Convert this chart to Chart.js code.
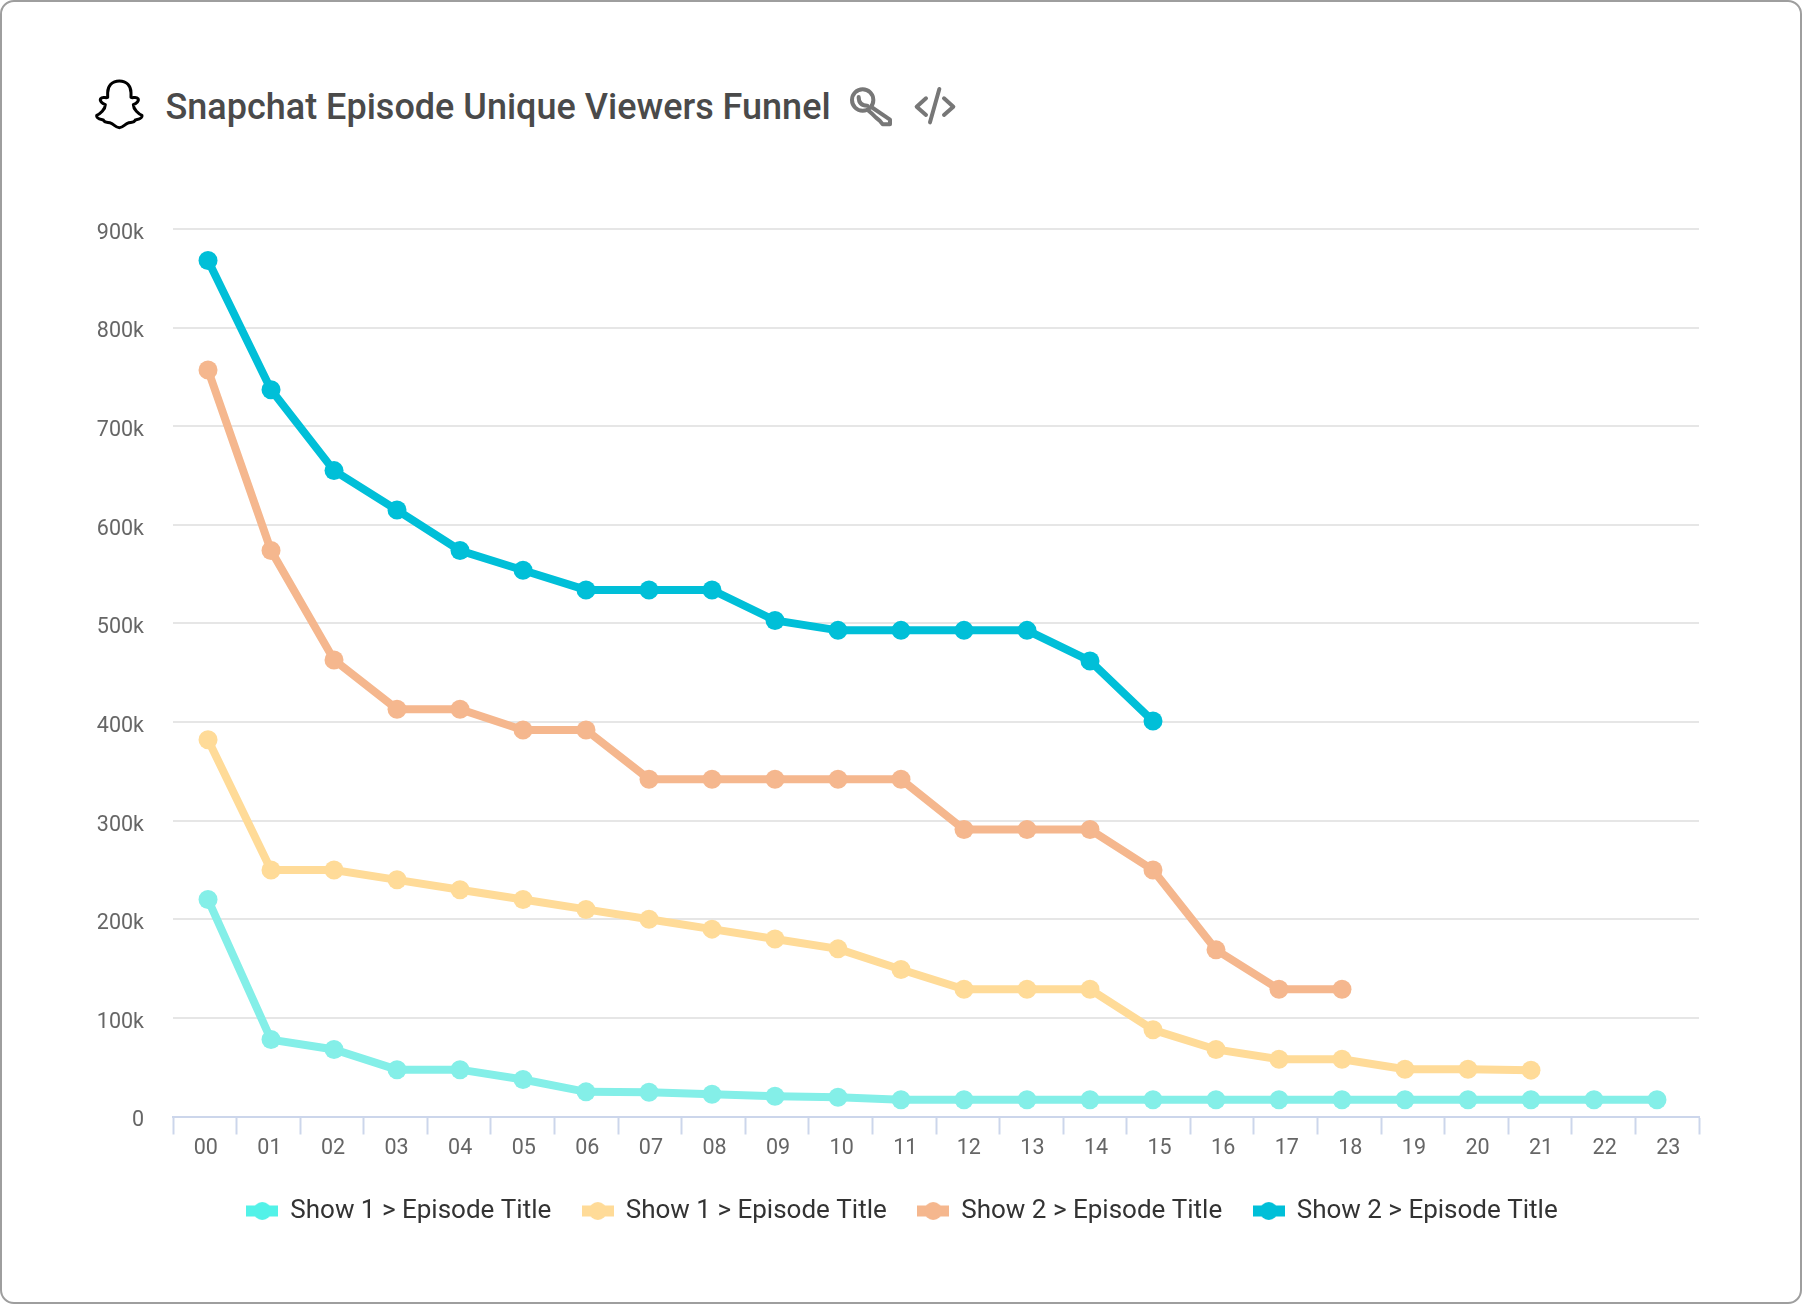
<!DOCTYPE html>
<html>
<head>
<meta charset="utf-8">
<title>Snapchat Episode Unique Viewers Funnel</title>
<script src="https://cdn.jsdelivr.net/npm/chart.js@4"></script>
<style>
    html, body { margin: 0; padding: 0; background: #fff; }
    #card { position: relative; width: 1802px; height: 1304px; box-sizing: border-box; border: 2px solid #9e9e9e; border-radius: 14px; overflow: hidden; }
    #grafico { position: absolute; left: -2px; top: -2px; }
    #titulo { position: absolute; left: 163.5px; top: 83px; margin: 0; font: 500 36px/44px Roboto, sans-serif; color: #4a4a4a; white-space: nowrap; }
    .icone { position: absolute; }
</style>
</head>
<body>
<div id="card">
    <svg class="icone" style="left:84px;top:68px" width="70" height="70" viewBox="0 0 210 210">
        <path fill="#fff" stroke="#000" stroke-width="9" stroke-linejoin="round" d="M100 33 C78 33 65 48 65 68 L65 82 C60 86 50 78 44 86 C40 92 48 100 58 104 C58 118 42 132 32 136 C30 146 44 148 52 150 C56 160 66 156 76 160 C84 164 90 173 100 173 C110 173 116 164 124 160 C134 156 144 160 148 150 C156 148 170 146 168 136 C158 132 142 118 142 104 C152 100 160 92 156 86 C150 78 140 86 135 82 L135 68 C135 48 122 33 100 33 Z"/>
    </svg>
    <h1 id="titulo">Snapchat Episode Unique Viewers Funnel</h1>
    <svg class="icone" style="left:838px;top:73px" width="130" height="60" viewBox="0 0 390 180">
        <g fill="none" stroke="#777" stroke-width="12" stroke-linecap="round" stroke-linejoin="round">
            <circle cx="68" cy="75" r="32"/>
            <path d="M56 66 C56 84 66 92 82 92"/>
            <path d="M94 96 L150 134 V148 H128 L118 136 L108 128 L98 118 L84 106"/>
            <path d="M258 70 L230 95 L258 120"/>
            <path d="M298 42 L270 142"/>
            <path d="M312 70 L340 95 L312 120"/>
        </g>
    </svg>
    <canvas id="grafico" width="1802" height="1304"></canvas>
</div>
<script>
const categorias = ['00','01','02','03','04','05','06','07','08','09','10','11','12','13','14','15','16','17','18','19','20','21','22','23'];
const nomes = ['Show 1 > Episode Title', 'Show 1 > Episode Title', 'Show 2 > Episode Title', 'Show 2 > Episode Title'];
const yTicks = [0, 100000, 200000, 300000, 400000, 500000, 600000, 700000, 800000, 900000];

// valores em milhares
const show1a = [220, 78, 68, 47.5, 47.5, 37.5, 25, 24.5, 22.5, 20.5, 19.5, 17, 17, 17, 17, 17, 17, 17, 17, 17, 17, 17, 17, 17];
const show1b = [382, 250, 250, 240, 230, 220, 210, 200, 190, 180, 170, 149, 129, 129, 129, 88, 68, 58, 58, 48, 48, 47];
const show2a = [757, 574, 463, 413, 413, 392, 392, 342, 342, 342, 342, 342, 291, 291, 291, 250, 169, 129, 129];
const show2b = [868, 737, 655, 615, 574, 554, 534, 534, 534, 503, 493, 493, 493, 493, 462, 401];

const series = [show1a, show1b, show2a, show2b];
const coresLinha = ['#84efe8', '#ffdb98', '#f5b78e', '#00bfd8'];
const coresLegenda = ['#52f2e8', '#ffdb98', '#f5b78e', '#00bfd8'];

// simbolo da legenda: barra grossa com um circulo no meio
function simbolo(cor) {
    const c = document.createElement('canvas');
    c.width = 32;
    c.height = 18;
    const g = c.getContext('2d');
    g.fillStyle = cor;
    g.fillRect(0, 3.5, 32, 11);
    g.beginPath();
    g.arc(16, 9, 9, 0, Math.PI * 2);
    g.fill();
    return c;
}

const datasets = series.map(function(valores, i) {
    return {
        label: nomes[i],
        data: valores.map(function(v, j) { return { x: j, y: v * 1000 }; }),
        xAxisID: 'x',
        yAxisID: 'y',
        borderColor: coresLinha[i],
        backgroundColor: coresLinha[i],
        borderWidth: 8,
        pointRadius: 9.5,
        pointBorderWidth: 0,
        tension: 0,
        clip: false
    };
});

// a legenda fica centrada na pagina e nao na area com o padding
const centraLegenda = {
    id: 'centraLegenda',
    afterLayout: function(chart) {
        chart.legend.left += 23;
        chart.legend.right += 23;
    }
};

new Chart(document.getElementById('grafico'), {
    type: 'line',
    data: { labels: categorias, datasets: datasets },
    plugins: [centraLegenda],
    options: {
        responsive: false,
        animation: false,
        devicePixelRatio: 1,
        layout: { padding: { left: 60, top: 229, right: 103, bottom: 70 } },
        plugins: {
            title: { display: false },
            tooltip: { enabled: false },
            legend: {
                position: 'bottom',
                labels: {
                    usePointStyle: true,
                    pointStyleWidth: 30,
                    padding: 31.5,
                    color: '#333',
                    font: { family: 'Roboto', size: 26 },
                    generateLabels: function(chart) {
                        return chart.data.datasets.map(function(ds, i) {
                            return {
                                text: ds.label,
                                datasetIndex: i,
                                pointStyle: simbolo(coresLegenda[i]),
                                fontColor: '#333',
                                lineWidth: 0,
                                hidden: false
                            };
                        });
                    }
                }
            }
        },
        scales: {
            // escala das linhas, os pontos nao ficam no centro das categorias
            x: {
                type: 'linear',
                display: false,
                min: -0.556,
                max: 23.667
            },
            // escala so para os rotulos e as marcas
            xRotulos: {
                type: 'category',
                position: 'bottom',
                offset: true,
                labels: categorias,
                border: { display: true, color: '#ccd6eb', width: 2 },
                grid: { offset: true, drawOnChartArea: false, drawTicks: true, tickLength: 18, tickColor: '#ccd6eb', tickWidth: 2 },
                ticks: {
                    color: '#666',
                    padding: 1,
                    labelOffset: 1,
                    maxRotation: 0,
                    autoSkip: false,
                    font: { family: 'Roboto', size: 21.5 }
                },
                afterFit: function(scale) { scale.height = 50; }
            },
            y: {
                type: 'linear',
                min: 0,
                max: 900000,
                afterBuildTicks: function(scale) {
                    scale.ticks = yTicks.map(function(v) { return { value: v }; });
                },
                border: { display: false },
                grid: { color: '#e6e6e6', lineWidth: 2, drawTicks: false },
                ticks: {
                    color: '#666',
                    padding: 29,
                    labelOffset: 4.5,
                    font: { family: 'Roboto', size: 21.5 },
                    callback: function(value) {
                        return value === 0 ? '0' : (value / 1000) + 'k';
                    }
                },
                afterFit: function(scale) { scale.width = 113; }
            }
        }
    }
});
</script>
</body>
</html>
